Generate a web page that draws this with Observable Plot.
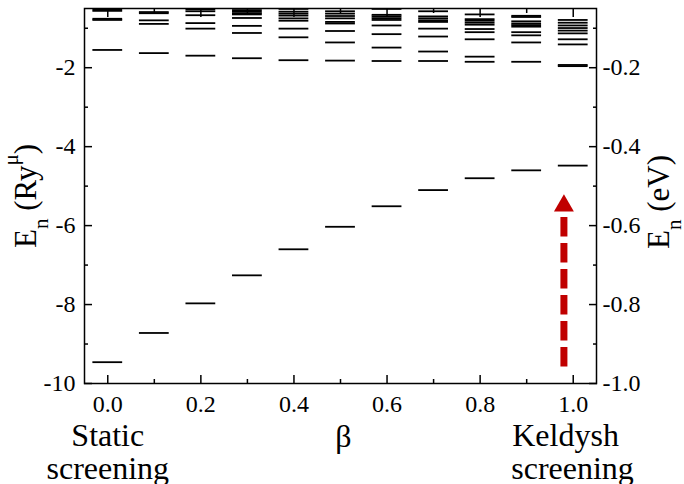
<!DOCTYPE html>
<html>
<head>
<meta charset="utf-8">
<script src="https://cdn.jsdelivr.net/npm/d3@7"></script>
<script src="https://cdn.jsdelivr.net/npm/@observablehq/plot@0.6"></script>
<style>
  html, body { margin: 0; padding: 0; background: #fff; }
  #chart svg { display: block; }
</style>
</head>
<body>
<div id="chart"></div>
<script>
// ---- data ----
const betas = [0.0, 0.1, 0.2, 0.3, 0.4, 0.5, 0.6, 0.7, 0.8, 0.9, 1.0];
const groundLevel = [-9.46, -8.72, -7.97, -7.26, -6.60, -6.03, -5.51, -5.10, -4.80, -4.60, -4.48];
const excited00 = [-1.55, -0.79, -0.76, -0.56, -0.52];
const excited01 = [-1.63, -0.89, -0.80, -0.62, -0.59];
const excited02 = [-1.695, -1.01, -0.87, -0.67, -0.57, -0.52];
const excited03 = [-1.76, -1.12, -0.94, -0.74, -0.65, -0.62, -0.58, -0.54];
const excited04 = [-1.81, -1.23, -1.01, -0.81, -0.75, -0.68, -0.63, -0.58, -0.51];
const excited05 = [-1.82, -1.36, -1.07, -0.88, -0.84, -0.75, -0.69, -0.63, -0.57];
const excited06 = [-1.83, -1.49, -1.15, -0.93, -0.79, -0.745, -0.70, -0.66, -0.51];
const excited07 = [-1.83, -1.59, -1.21, -1.01, -0.84, -0.80, -0.75, -0.70, -0.57];
const excited08 = [-1.85, -1.72, -1.28, -1.10, -1.02, -0.91, -0.86, -0.81, -0.77, -0.65];
const excited09 = [-1.85, -1.36, -1.18, -1.10, -0.96, -0.92, -0.88, -0.825, -0.715, -0.685];
const excited10 = [-1.96, -1.93, -1.41, -1.28, -1.13, -1.06, -0.995, -0.93, -0.86, -0.79];
const excitedLevels = [excited00, excited01, excited02, excited03, excited04, excited05,
                       excited06, excited07, excited08, excited09, excited10];

const xMajorTicks = [0.0, 0.2, 0.4, 0.6, 0.8, 1.0];
const xMinorTicks = [0.1, 0.3, 0.5, 0.7, 0.9];
const yMajorTicks = [-10, -8, -6, -4, -2];
const yMinorTicks = [-9, -7, -5, -3, -1];
const evMajorTicks = [-1.0, -0.8, -0.6, -0.4, -0.2];
const evMinorTicks = [-0.9, -0.7, -0.5, -0.3, -0.1];
const ryToEv = 0.1;

// red arrow: at beta, dashed shaft from..to, triangle head centre
const arrowBeta = 0.98;
const arrowFrom = -9.58;
const arrowTo = -5.79;
const arrowHead = -5.50;

const bottomNotes = [
  {beta: 0.0, line1: "Static", line2: "screening"},
  {beta: 1.0, line1: "Keldysh", line2: "screening"}
];

// ---- build table ----
const rows = [];
betas.forEach((b, i) => {
  rows.push({beta: b, E: groundLevel[i]});
  excitedLevels[i].forEach(e => rows.push({beta: b, E: e}));
});
const half = 0.032;
const red = "#c00000";
const serif = "'Liberation Serif', 'Times New Roman', serif";

const chart = Plot.plot({
  width: 684,
  height: 484,
  marginLeft: 84,
  marginRight: 88,
  marginTop: 8,
  marginBottom: 101,
  style: {fontFamily: serif, fontSize: "24px", color: "black", background: "white", overflow: "visible"},
  x: {domain: [-0.05, 1.05]},
  y: {domain: [-10, -0.5]},
  marks: [
    Plot.ruleY(rows, {y: "E", x1: d => d.beta - half, x2: d => d.beta + half, stroke: "black", strokeWidth: 1.8, clip: true}),
    Plot.ruleX([0], {x: () => arrowBeta, y1: () => arrowFrom, y2: () => arrowTo, stroke: red, strokeWidth: 7, strokeDasharray: "19.3,6.7"}),
    Plot.dot([0], {x: () => arrowBeta, y: () => arrowHead, symbol: "triangle", r: 7.4, fill: red, stroke: "none"}),
    // inward ticks
    Plot.axisX(xMajorTicks, {anchor: "bottom", tickSize: -8, tickFormat: () => "", strokeWidth: 1.5, label: null}),
    Plot.axisX(xMinorTicks, {anchor: "bottom", tickSize: -4, tickFormat: () => "", strokeWidth: 1.5, label: null}),
    Plot.axisX(xMajorTicks, {anchor: "top", tickSize: -8, tickFormat: () => "", strokeWidth: 1.5, label: null}),
    Plot.axisX(xMinorTicks, {anchor: "top", tickSize: -4, tickFormat: () => "", strokeWidth: 1.5, label: null}),
    Plot.axisY(yMajorTicks, {anchor: "left", tickSize: -8, tickFormat: () => "", strokeWidth: 1.5, label: null}),
    Plot.axisY(yMinorTicks, {anchor: "left", tickSize: -4, tickFormat: () => "", strokeWidth: 1.5, label: null}),
    Plot.axisY(evMajorTicks.map(v => v / ryToEv), {anchor: "right", tickSize: -8, tickFormat: () => "", strokeWidth: 1.5, label: null}),
    Plot.axisY(evMinorTicks.map(v => v / ryToEv), {anchor: "right", tickSize: -4, tickFormat: () => "", strokeWidth: 1.5, label: null}),
    // tick labels
    Plot.axisX(xMajorTicks, {anchor: "bottom", tickSize: 0, tickPadding: 11, tickFormat: d3.format(".1f"), fontSize: 24, label: null}),
    Plot.axisY(yMajorTicks, {anchor: "left", tickSize: 0, tickPadding: 9, tickFormat: d => String(d).replace("\u2212", "-"), fontSize: 24, label: null}),
    Plot.axisY(evMajorTicks.map(v => v / ryToEv), {anchor: "right", tickSize: 0, tickPadding: 6, tickFormat: d => (d * ryToEv).toFixed(1), fontSize: 24, label: null}),
    // bottom notes
    Plot.text(bottomNotes.slice(0, 1), {x: "beta", text: "line1", frameAnchor: "bottom", dy: 62, lineAnchor: "bottom", fontSize: 32}),
    Plot.text(bottomNotes.slice(0, 1), {x: "beta", text: "line2", frameAnchor: "bottom", dy: 95, lineAnchor: "bottom", fontSize: 32}),
    Plot.text(bottomNotes.slice(1), {x: "beta", text: "line1", frameAnchor: "bottom", dy: 62, dx: -61, textAnchor: "start", lineAnchor: "bottom", fontSize: 32}),
    Plot.text(bottomNotes.slice(1), {x: "beta", text: "line2", frameAnchor: "bottom", dy: 95, dx: -62, textAnchor: "start", lineAnchor: "bottom", fontSize: 32}),
    Plot.text(["\u03B2"], {frameAnchor: "bottom", dy: 63, lineAnchor: "bottom", fontSize: 32, dx: 3}),
    // y labels
    Plot.text(["E"], {frameAnchor: "left", dx: -49, rotate: -90, lineAnchor: "bottom", textAnchor: "start", fontSize: 31, className: "ylab-left"}),
    Plot.text(["E"], {frameAnchor: "right", dx: 72, dy: 6, rotate: -90, lineAnchor: "bottom", textAnchor: "start", fontSize: 31, className: "ylab-right"}),
    Plot.frame({stroke: "black", strokeWidth: 1.5})
  ]
});

document.getElementById("chart").appendChild(chart);

// rich text for the axis titles (subscript / superscript), then centre along the axis
function richLabel(sel, html) {
  d3.select(chart).selectAll(sel).each(function() {
    const t = d3.select(this);
    t.attr("text-anchor", "start").html(html);
    const L = this.getComputedTextLength();
    t.attr("x", -L / 2);
  });
}
richLabel(".ylab-left text",
  'E<tspan dy="12" font-size="21">n</tspan><tspan dy="-12"> (Ry</tspan><tspan dy="-18" font-size="21">\u03BC</tspan><tspan dy="18">)</tspan>');
richLabel(".ylab-right text",
  'E<tspan dy="12" font-size="21">n</tspan><tspan dy="-12"> (eV)</tspan>');
</script>
</body>
</html>
